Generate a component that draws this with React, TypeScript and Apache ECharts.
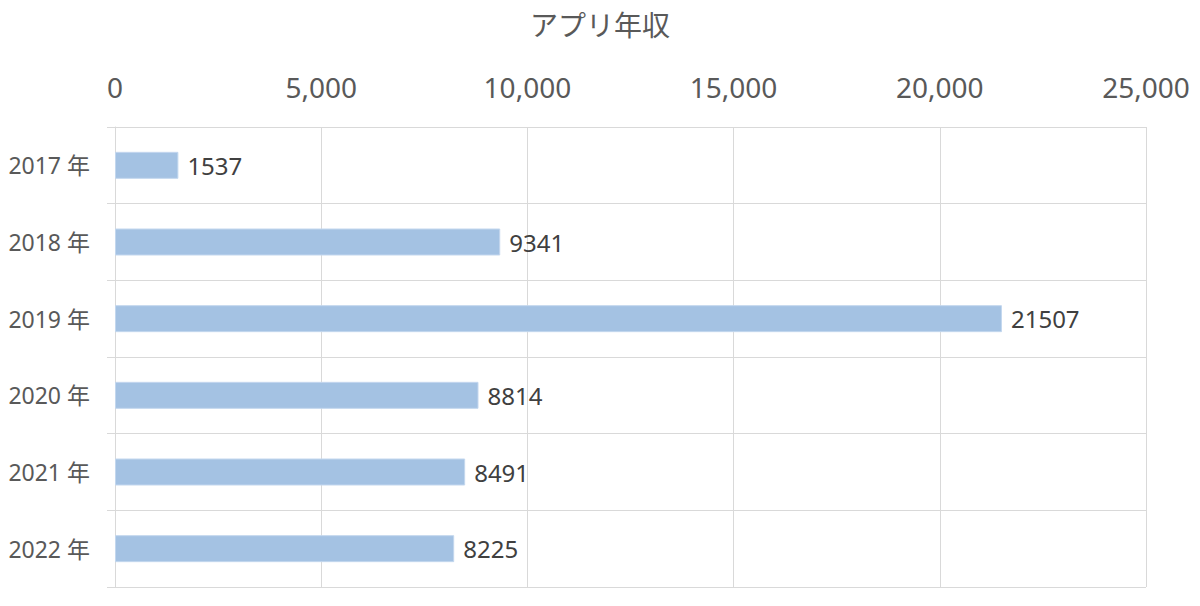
import React, { useEffect, useRef } from "react";
import * as echarts from "echarts";

const categories = ["2017 年", "2018 年", "2019 年", "2020 年", "2021 年", "2022 年"];
const values = [1537, 9341, 21507, 8814, 8491, 8225];
const titleText = "アプリ年収";

const FONT = "'Noto Sans', 'Noto Sans CJK JP', sans-serif";

export default function App() {
  const ref = useRef<HTMLDivElement>(null);
  useEffect(() => {
    if (!ref.current) return;
    const chart = echarts.init(ref.current, null, { renderer: "svg" });
    chart.setOption({
      animation: false,
      backgroundColor: "#ffffff",
      title: {
        text: titleText,
        left: "center",
        top: 6,
        textStyle: { fontFamily: FONT, fontSize: 28, fontWeight: "normal", color: "#595959" },
      },
      grid: { left: 115, right: 54, top: 127, bottom: 19, containLabel: false, outerBoundsMode: "none" },
      xAxis: {
        type: "value",
        position: "top",
        min: 0,
        max: 25000,
        interval: 5000,
        axisLine: { show: false },
        axisTick: { show: false },
        axisLabel: { fontFamily: FONT, fontSize: 28, color: "#595959", margin: 26 },
        splitLine: { show: true, lineStyle: { color: "#d9d9d9", width: 1 } },
      },
      yAxis: {
        type: "category",
        data: categories,
        inverse: true,
        axisLine: { show: true, lineStyle: { color: "#d9d9d9", width: 1 } },
        axisTick: { show: true, length: 8, lineStyle: { color: "#d9d9d9" } },
        axisLabel: { fontFamily: FONT, fontSize: 23, color: "#595959", margin: 25 },
        splitLine: { show: true, lineStyle: { color: "#d9d9d9", width: 1 } },
      },
      series: [
        {
          type: "bar",
          data: values,
          barWidth: 27,
          itemStyle: { color: "#a4c2e3", borderColor: "#c3d7ee", borderWidth: 1 },
          label: {
            show: true,
            position: "right",
            distance: 9,
            fontFamily: FONT,
            fontSize: 24,
            color: "#404040",
          },
        },
      ],
    });
    return () => chart.dispose();
  }, []);
  return <div ref={ref} style={{ width: 1200, height: 606, margin: -8 }} />;
}
